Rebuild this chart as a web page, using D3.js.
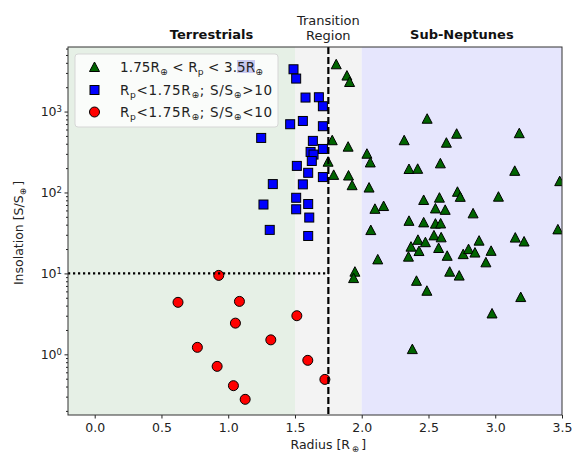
<!DOCTYPE html>
<html>
<head>
<meta charset="utf-8">
<script src="https://cdn.jsdelivr.net/npm/d3@7"></script>
<style>
  body { margin: 0; background: #fff; }
  text { font-family: "DejaVu Sans", sans-serif; }
</style>
</head>
<body>
<div class="chart"></div>
<script>
  // blue squares: Rp < 1.75, S > 10
  const hotR = [1.489, 1.509, 1.579, 1.679, 1.709, 1.464, 1.559, 1.709, 1.247, 1.634, 1.709, 1.617, 1.639,
    1.626, 1.514, 1.599, 1.709, 1.334, 1.559, 1.509, 1.264, 1.509, 1.599, 1.607, 1.311, 1.599];
  const hotS = [3330, 2555, 1489, 1502, 1163, 697, 765, 659, 472, 434, 345, 317, 294,
    245, 213, 175, 155, 127, 126, 86, 71, 62, 72, 49, 34.5, 29];

  // red circles: Rp < 1.75, S < 10
  const coolR = [0.929, 0.624, 1.084, 1.514, 1.054, 1.319, 0.769, 0.917, 1.596, 1.039, 1.724, 1.127];
  const coolS = [9.45, 4.39, 4.51, 3.0, 2.43, 1.51, 1.22, 0.71, 0.843, 0.41, 0.49, 0.278];

  // green triangles: 1.75 < Rp < 3.5
  const subR = [1.809, 1.889, 1.909, 1.779, 1.898, 1.748, 1.790, 1.901, 1.928, 2.039, 2.064, 1.949, 1.939,
    2.490, 2.318, 2.711, 2.634, 2.354, 2.419, 2.589, 2.055, 2.099, 2.164, 2.464, 2.582, 2.552, 2.625,
    2.717, 2.738, 2.354, 2.464, 2.552, 2.591, 2.068, 2.421, 2.369, 2.477, 2.541, 2.595, 2.576, 2.350,
    2.429, 2.640, 2.760, 2.120, 2.659, 2.730, 2.410, 2.488, 3.180, 3.146, 3.483, 3.024, 2.834, 3.469,
    2.879, 3.150, 3.216, 2.800, 2.848, 2.969, 2.930, 3.191, 2.976, 2.379];
  const subS = [3837, 2782, 2319, 442, 368, 240, 165, 162, 123, 301, 235, 10.5, 8.75,
    815, 442, 532, 412, 195, 196, 229, 115, 62.8, 68, 80.8, 86.3, 63.5, 61,
    102, 88.3, 44.6, 42.7, 41.2, 41.4, 34.3, 26, 21.4, 24.3, 29.5, 27.9, 20.6, 16.1,
    18.9, 16.5, 17.3, 14.9, 10.5, 9.4, 8.1, 6.1, 540, 185, 138, 88.7, 55.2, 35,
    25.4, 27.7, 24.8, 19.95, 18.1, 19.0, 13.7, 5.1, 3.2, 1.16];

  const xTicks = [0, 0.5, 1, 1.5, 2, 2.5, 3, 3.5];
  const yExps = [0, 1, 2, 3];

  const W = 573, H = 457;
  const margin = { top: 47, right: 11, bottom: 42, left: 68 };

  const svg = d3.select('.chart').append('svg')
    .attr('width', W).attr('height', H);

  const x = d3.scaleLinear().domain([-0.2, 3.5]).range([margin.left, W - margin.right]);
  const y = d3.scaleLog().domain([0.178, 6275]).range([H - margin.bottom, margin.top]);

  svg.append('clipPath').attr('id', 'plot')
    .append('rect')
    .attr('x', x(-0.2)).attr('y', y(6275))
    .attr('width', x(3.5) - x(-0.2)).attr('height', y(0.178) - y(6275));

  const plot = svg.append('g').attr('clip-path', 'url(#plot)');

  // regions
  const bands = [[-0.2, 1.5, '#e6f0e6'], [1.5, 2.0, '#f3f3f3'], [2.0, 3.5, '#e6e6fd']];
  plot.selectAll('rect.band')
    .data(bands)
    .enter()
    .append('rect')
    .attr('x', d => x(d[0]))
    .attr('y', y(6275))
    .attr('width', d => x(d[1]) - x(d[0]))
    .attr('height', y(0.178) - y(6275))
    .attr('fill', d => d[2]);

  // triangles
  plot.selectAll('path.tri')
    .data(subR.map((r, i) => [r, subS[i]]))
    .enter()
    .append('path')
    .attr('d', d => {
      const cx = x(d[0]), cy = y(d[1]);
      return 'M' + cx + ',' + (cy - 5) + 'L' + (cx + 5) + ',' + (cy + 4.5) + 'L' + (cx - 5) + ',' + (cy + 4.5) + 'Z';
    })
    .attr('fill', '#006400')
    .attr('stroke', '#000')
    .attr('stroke-width', 1);

  // squares
  plot.selectAll('rect.sq')
    .data(hotR.map((r, i) => [r, hotS[i]]))
    .enter()
    .append('rect')
    .attr('x', d => x(d[0]) - 4.5)
    .attr('y', d => y(d[1]) - 4.5)
    .attr('width', 9)
    .attr('height', 9)
    .attr('fill', '#0000ff')
    .attr('stroke', '#000')
    .attr('stroke-width', 1);

  // circles
  plot.selectAll('circle')
    .data(coolR.map((r, i) => [r, coolS[i]]))
    .enter()
    .append('circle')
    .attr('cx', d => x(d[0]))
    .attr('cy', d => y(d[1]))
    .attr('r', 5)
    .attr('fill', '#ff0000')
    .attr('stroke', '#000')
    .attr('stroke-width', 1);

  // dashed boundary and dotted S=10 line
  plot.append('line')
    .attr('x1', x(1.75)).attr('x2', x(1.75))
    .attr('y1', y(6275)).attr('y2', y(0.178))
    .attr('stroke', '#000').attr('stroke-width', 2.2)
    .attr('stroke-dasharray', '7,3');

  plot.append('line')
    .attr('x1', x(-0.2)).attr('x2', x(1.75))
    .attr('y1', y(10)).attr('y2', y(10))
    .attr('stroke', '#000').attr('stroke-width', 2.2)
    .attr('stroke-dasharray', '2.2,2.8');

  // axes
  const xAxis = svg.append('g')
    .attr('transform', 'translate(0,' + (H - margin.bottom) + ')')
    .call(d3.axisBottom(x).tickValues(xTicks).tickFormat(d3.format('.1f')).tickSize(3.5).tickPadding(5));

  const minor = [];
  for (let e = -1; e <= 3; e++) {
    for (let k = 2; k <= 9; k++) {
      const v = k * Math.pow(10, e);
      if (v > 0.178 && v < 6275) minor.push(v);
    }
  }
  const yMinor = svg.append('g')
    .attr('transform', 'translate(' + margin.left + ',0)')
    .call(d3.axisLeft(y).tickValues(minor).tickFormat('').tickSize(2));
  yMinor.select('.domain').remove();

  const yAxis = svg.append('g')
    .attr('transform', 'translate(' + margin.left + ',0)')
    .call(d3.axisLeft(y).tickValues(yExps.map(e => Math.pow(10, e))).tickFormat('').tickSize(3.5));

  yAxis.selectAll('.tick').each(function(d) {
    const t = d3.select(this).append('text')
      .attr('x', -6).attr('dy', '0.32em')
      .attr('text-anchor', 'end')
      .attr('fill', '#222')
      .attr('font-size', '12.5px');
    t.append('tspan').text('10');
    t.append('tspan').attr('dy', '-0.45em').attr('font-size', '8.5px').text(Math.round(Math.log10(d)));
  });

  [xAxis, yAxis, yMinor].forEach(a => {
    a.selectAll('.tick line').attr('stroke', '#222');
    a.select('.domain').remove();
  });
  xAxis.selectAll('.tick text').attr('font-size', '12.5px').attr('fill', '#222')
    .attr('font-family', '"DejaVu Sans", sans-serif');

  // frame
  svg.append('rect')
    .attr('x', x(-0.2)).attr('y', y(6275))
    .attr('width', x(3.5) - x(-0.2)).attr('height', y(0.178) - y(6275))
    .attr('fill', 'none').attr('stroke', '#333').attr('stroke-width', 1);

  // rich text helper: parts of [text, isSub]
  function rich(sel, parts, size) {
    let shifted = false;
    parts.forEach(p => {
      const ts = sel.append('tspan').text(p[0]);
      if (p[1] && !shifted) { ts.attr('dy', 3).attr('font-size', (size * 0.68) + 'px'); shifted = true; }
      else if (!p[1] && shifted) { ts.attr('dy', -3); shifted = false; }
      else if (p[1]) ts.attr('font-size', (size * 0.68) + 'px');
    });
  }

  // axis labels
  const xl = svg.append('text')
    .attr('x', x(1.75)).attr('y', 449)
    .attr('text-anchor', 'middle').attr('font-size', '12.5px').attr('fill', '#222');
  rich(xl, [['Radius [R'], ['\u2009\u2295', true], ['\u2009]']], 12.5);

  const yl = svg.append('text')
    .attr('transform', 'translate(23,' + y(Math.pow(10, 1.5)) + ') rotate(-90)')
    .attr('text-anchor', 'middle').attr('font-size', '12.5px').attr('fill', '#222');
  rich(yl, [['Insolation [S/S'], ['\u2295', true], ['\u2009]']], 12.5);

  // region titles
  svg.append('text')
    .attr('x', x(0.875)).attr('y', 39)
    .attr('text-anchor', 'middle').attr('font-size', '13px').attr('font-weight', 'bold').attr('fill', '#111')
    .text('Terrestrials');
  svg.append('text')
    .attr('x', x(2.75)).attr('y', 39)
    .attr('text-anchor', 'middle').attr('font-size', '13px').attr('font-weight', 'bold').attr('fill', '#111')
    .text('Sub-Neptunes');
  svg.append('text')
    .attr('x', x(1.75)).attr('y', 25)
    .attr('text-anchor', 'middle').attr('font-size', '13px').attr('fill', '#222')
    .text('Transition');
  svg.append('text')
    .attr('x', x(1.75)).attr('y', 40)
    .attr('text-anchor', 'middle').attr('font-size', '13px').attr('fill', '#222')
    .text('Region');

  // legend
  const lg = svg.append('g');
  lg.append('rect')
    .attr('x', 75).attr('y', 54).attr('width', 203).attr('height', 73).attr('rx', 3)
    .attr('fill', '#fff').attr('fill-opacity', 0.8)
    .attr('stroke', '#d6d6d6').attr('stroke-width', 1);
  lg.append('rect')
    .attr('x', 237).attr('y', 60).attr('width', 18).attr('height', 13)
    .attr('fill', '#c9c9f0');

  const rows = [
    { y: 67, w: 143, parts: [['1.75R'], ['\u2295', true], [' < R'], ['p', true], [' < 3.5R'], ['\u2295', true]] },
    { y: 90, w: 152, parts: [['R'], ['p', true], ['<1.75R'], ['\u2295', true], ['; S/S'], ['\u2295', true], ['>10']] },
    { y: 112, w: 152, parts: [['R'], ['p', true], ['<1.75R'], ['\u2295', true], ['; S/S'], ['\u2295', true], ['<10']] }
  ];
  const mx = 94.5;
  lg.append('path')
    .attr('d', 'M' + mx + ',' + (rows[0].y - 5) + 'L' + (mx + 5) + ',' + (rows[0].y + 4.5) + 'L' + (mx - 5) + ',' + (rows[0].y + 4.5) + 'Z')
    .attr('fill', '#006400').attr('stroke', '#000');
  lg.append('rect')
    .attr('x', mx - 4.5).attr('y', rows[1].y - 4.5).attr('width', 9).attr('height', 9)
    .attr('fill', '#0000ff').attr('stroke', '#000');
  lg.append('circle')
    .attr('cx', mx).attr('cy', rows[2].y).attr('r', 5)
    .attr('fill', '#ff0000').attr('stroke', '#000');

  rows.forEach(r => {
    const t = lg.append('text')
      .attr('x', 120).attr('y', r.y + 4.5)
      .attr('font-size', '13.5px').attr('fill', '#222')
      .attr('textLength', r.w).attr('lengthAdjust', 'spacing');
    rich(t, r.parts, 13.5);
  });
</script>
</body>
</html>
